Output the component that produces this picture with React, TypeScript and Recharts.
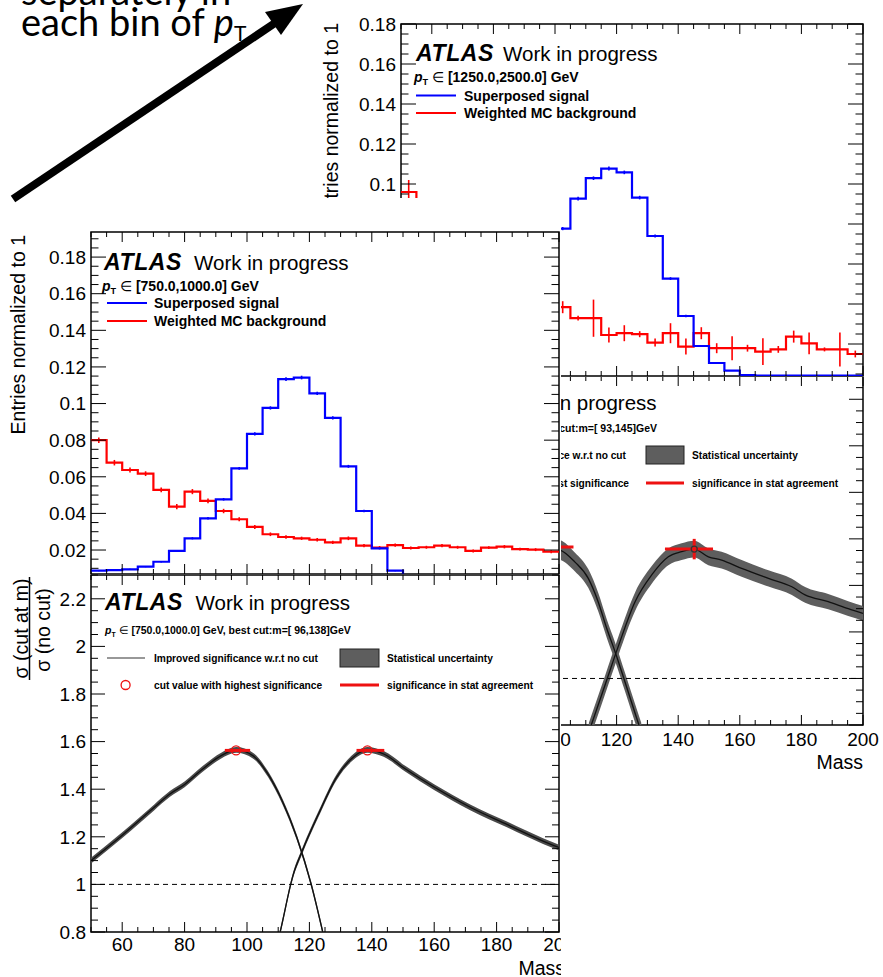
import React from "react";
import { ComposedChart, Line, Area, Scatter, XAxis, YAxis, ErrorBar, ReferenceLine, ReferenceArea } from "recharts";

const FONT = "'Liberation Sans', Arimo, Helvetica, Arial, sans-serif";

// 5 GeV mass bins (left edges)
const binEdges = [50, 55, 60, 65, 70, 75, 80, 85, 90, 95, 100, 105, 110, 115, 120, 125, 130, 135, 140, 145, 150, 155, 160, 165, 170, 175, 180, 185, 190, 195];

// pT in [750, 1000] GeV
const sigLowPt = [0.0087, 0.009, 0.0094, 0.0109, 0.0136, 0.0195, 0.0264, 0.0373, 0.0477, 0.0646, 0.0834, 0.0976, 0.1133, 0.1142, 0.1056, 0.0922, 0.0657, 0.0413, 0.0209, 0.0087, 0.004, 0.003, 0.002, 0.002, 0.001, 0.001, 0.001, 0.001, 0.001, 0.001];
const sigLowPtErr = [0.0003, 0.0003, 0.0003, 0.0003, 0.0004, 0.0005, 0.0006, 0.0007, 0.0007, 0.0008, 0.0009, 0.0009, 0.001, 0.001, 0.0009, 0.0009, 0.0008, 0.0007, 0.0005, 0.0003, 0.0002, 0.0002, 0.0002, 0.0002, 0.0002, 0.0002, 0.0002, 0.0002, 0.0002, 0.0002];
const bkgLowPt = [0.08, 0.0677, 0.0637, 0.0617, 0.0528, 0.0437, 0.0519, 0.0468, 0.0413, 0.0368, 0.0326, 0.0286, 0.0271, 0.0264, 0.0256, 0.0242, 0.0264, 0.0224, 0.0213, 0.0227, 0.0211, 0.0215, 0.0224, 0.0215, 0.0195, 0.0213, 0.0218, 0.0205, 0.0202, 0.0191];
const bkgLowPtErr = [0.0015, 0.0015, 0.0014, 0.0013, 0.0013, 0.0015, 0.0014, 0.0013, 0.0012, 0.0011, 0.0011, 0.001, 0.001, 0.0009, 0.0009, 0.0009, 0.001, 0.0009, 0.0009, 0.0009, 0.0008, 0.0008, 0.0009, 0.0008, 0.0008, 0.0008, 0.0009, 0.0008, 0.0008, 0.0008];

// pT in [1250, 2500] GeV
const sigHighPt = [0.003, 0.004, 0.005, 0.006, 0.008, 0.011, 0.016, 0.025, 0.038, 0.056, 0.0777, 0.0927, 0.1029, 0.1077, 0.1058, 0.0932, 0.074, 0.0527, 0.034, 0.019, 0.0105, 0.0067, 0.0045, 0.0042, 0.0042, 0.0042, 0.0042, 0.0042, 0.0042, 0.0042];
const sigHighPtErr = [0.0003, 0.0003, 0.0003, 0.0003, 0.0004, 0.0004, 0.0005, 0.0006, 0.0007, 0.0008, 0.0008, 0.0009, 0.0009, 0.001, 0.0009, 0.0009, 0.0008, 0.0007, 0.0006, 0.0005, 0.0003, 0.0002, 0.0002, 0.0002, 0.0002, 0.0002, 0.0002, 0.0002, 0.0002, 0.0002];
const bkgHighPt = [0.096, 0.07, 0.062, 0.058, 0.052, 0.05, 0.046, 0.044, 0.041, 0.039, 0.0384, 0.0329, 0.0329, 0.0245, 0.0254, 0.0249, 0.0207, 0.0254, 0.0187, 0.0254, 0.0179, 0.0179, 0.0179, 0.0162, 0.0173, 0.0237, 0.0203, 0.0173, 0.0173, 0.015];
const bkgHighPtErr = [0.006, 0.008, 0.005, 0.005, 0.005, 0.004, 0.004, 0.004, 0.004, 0.004, 0.003, 0.0012, 0.0093, 0.0037, 0.004, 0.0015, 0.002, 0.005, 0.004, 0.003, 0.0025, 0.006, 0.0017, 0.0067, 0.0017, 0.003, 0.0054, 0.001, 0.0085, 0.0017];

// significance improvement, pT in [750, 1000]: lower mass cut / upper mass cut
const impLowCutMassA = [50, 60.3, 70.2, 75.3, 80, 85.8, 91.6, 96.5, 102, 106.7, 111.3, 116, 120.6, 124.1, 126];
const impLowCutA = [1.1, 1.21, 1.323, 1.38, 1.42, 1.485, 1.54, 1.565, 1.54, 1.464, 1.35, 1.196, 0.999, 0.81, 0.7];
const impLowCutErrA = [0.012, 0.012, 0.012, 0.012, 0.012, 0.012, 0.012, 0.012, 0.012, 0.012, 0.012, 0.012, 0.012, 0.012, 0.012];
const impHighCutMassA = [109, 110.8, 114.8, 117.7, 122.9, 128.7, 133.4, 138.6, 143.8, 150.8, 160.1, 171.7, 183.3, 194.9, 200];
const impHighCutA = [0.71, 0.81, 1.04, 1.14, 1.295, 1.45, 1.527, 1.565, 1.548, 1.485, 1.408, 1.323, 1.252, 1.182, 1.155];
const impHighCutErrA = [0.012, 0.012, 0.012, 0.012, 0.012, 0.012, 0.012, 0.012, 0.012, 0.012, 0.012, 0.012, 0.012, 0.012, 0.012];
const bestCutMassA = [96.5, 138.6];
const bestCutA = [1.563, 1.563];
const bestCutLoA = [3.6, 3.5];
const bestCutHiA = [4.5, 5.4];
const bestCutYErrA = [0, 0];

// significance improvement, pT in [1250, 2500]
const impLowCutMassB = [50, 60, 70, 80, 86, 90, 93, 97, 101.6, 106.5, 110.8, 114, 116.8, 119.5, 122.7, 126.5, 128];
const impLowCutB = [1.08, 1.2, 1.33, 1.45, 1.52, 1.555, 1.565, 1.56, 1.552, 1.5, 1.43, 1.33, 1.215, 1.115, 0.986, 0.83, 0.77];
const impLowCutErrB = [0.04, 0.04, 0.04, 0.04, 0.04, 0.04, 0.04, 0.04, 0.042, 0.04, 0.04, 0.04, 0.04, 0.04, 0.04, 0.04, 0.04];
const impHighCutMassB = [111, 116.2, 120.6, 126, 131.4, 136.8, 141.1, 145.2, 149.8, 154.1, 160.6, 169.3, 176.9, 181.2, 188.7, 195.2, 200];
const impHighCutB = [0.77, 0.97, 1.14, 1.33, 1.445, 1.523, 1.545, 1.556, 1.523, 1.509, 1.473, 1.43, 1.394, 1.359, 1.33, 1.3, 1.28];
const impHighCutErrB = [0.04, 0.04, 0.04, 0.04, 0.038, 0.036, 0.036, 0.036, 0.036, 0.036, 0.036, 0.035, 0.035, 0.034, 0.033, 0.032, 0.032];
const bestCutMassB = [93, 145.2];
const bestCutB = [1.565, 1.556];
const bestCutLoB = [10, 9.5];
const bestCutHiB = [13, 6.1];
const bestCutYErrB = [0, 0.044];

const massMajorTicks = [60, 80, 100, 120, 140, 160, 180, 200];
const histMajorTicks = [0.02, 0.04, 0.06, 0.08, 0.1, 0.12, 0.14, 0.16, 0.18];
const ratioMajorTicks = [0.8, 1, 1.2, 1.4, 1.6, 1.8, 2, 2.2];

const steps = (a: number, b: number, s: number) => {
	const out: number[] = [];
	for (let v = a; v <= b + 1e-9; v += s) out.push(Math.round(v * 1000) / 1000);
	return out;
};
const massTicks = steps(50, 200, 5);

type Frame = { left: number; top: number; right: number; bottom: number };

const stepData = (vals: number[]) => {
	const pts = binEdges.map((m, i) => ({ m, v: vals[i] }));
	pts.push({ m: 200, v: vals[vals.length - 1] });
	return pts;
};
const errData = (vals: number[], errs: number[]) => binEdges.map((m, i) => ({ m: m + 2.5, v: vals[i], e: errs[i] }));
const curveData = (mass: number[], vals: number[], errs: number[]) =>
	mass.map((m, i) => ({ m, v: vals[i], band: [vals[i] - errs[i], vals[i] + errs[i]] }));
const peakData = (mass: number[], vals: number[], lo: number[], hi: number[], ey: number[]) =>
	mass.map((m, i) => ({ m, v: vals[i], ex: [lo[i], hi[i]], ey: ey[i] }));

// the axes are given 1px so they render; the frame itself is the plot area
const chartMargin = (w: number, h: number, f: Frame) => ({ top: f.top, left: f.left - 1, right: w - f.right, bottom: h - f.bottom - 1 });

const makeXTick = (f: Frame, major: number, minor: number, labelDy: number, labels: boolean) => (p: any) => {
	const x = p.x;
	const v = p.payload.value;
	const isMajor = massMajorTicks.includes(v);
	const len = isMajor ? major : minor;
	return (
		<g>
			<line x1={x} x2={x} y1={f.bottom} y2={f.bottom - len} stroke="#000" strokeWidth={1} />
			<line x1={x} x2={x} y1={f.top} y2={f.top + len} stroke="#000" strokeWidth={1} />
			{isMajor && labels ? (
				<text x={x} y={f.bottom + labelDy} textAnchor="middle" fontSize={19} fontFamily={FONT} fill="#000">
					{v}
				</text>
			) : null}
		</g>
	);
};

const makeYTick = (f: Frame, majors: number[], major: number, minor: number) => (p: any) => {
	const y = p.y;
	const v = p.payload.value;
	const isMajor = majors.some((m) => Math.abs(m - v) < 1e-6);
	const len = isMajor ? major : minor;
	return (
		<g>
			<line x1={f.left} x2={f.left + len} y1={y} y2={y} stroke="#000" strokeWidth={1} />
			<line x1={f.right} x2={f.right - len} y1={y} y2={y} stroke="#000" strokeWidth={1} />
			{isMajor ? (
				<text x={f.left - 5} y={y + 6.8} textAnchor="end" fontSize={19} fontFamily={FONT} fill="#000">
					{String(Number(v.toFixed(3)))}
				</text>
			) : null}
		</g>
	);
};

const noShape = () => <g />;

function HistChart(props: {
	w: number; h: number; frame: Frame; yDomain: [number, number];
	sig: number[]; sigErr: number[]; bkg: number[]; bkgErr: number[];
}) {
	const { w, h, frame, yDomain, sig, sigErr, bkg, bkgErr } = props;
	const yTicks = steps(0.005, 0.19, 0.005).filter((t) => t >= yDomain[0] && t <= yDomain[1]);
	return (
		<ComposedChart width={w} height={h} margin={chartMargin(w, h, frame)}>
			<XAxis type="number" dataKey="m" domain={[50, 200]} allowDataOverflow ticks={massTicks} interval={0}
				tick={makeXTick(frame, 10, 5, 20, false)} tickLine={false} axisLine={false} height={1} />
			<YAxis type="number" domain={yDomain} allowDataOverflow ticks={yTicks} interval={0}
				tick={makeYTick(frame, histMajorTicks, 15, 7.5)} tickLine={false} axisLine={false} width={1} />
			<ReferenceArea x1={50} x2={200} y1={yDomain[0]} y2={yDomain[1]} fill="none" stroke="#000" strokeWidth={1.5} ifOverflow="visible" />
			<Line data={stepData(bkg)} dataKey="v" type="stepAfter" stroke="#ff0000" strokeWidth={2.2} dot={false} isAnimationActive={false} />
			<Scatter data={errData(bkg, bkgErr)} dataKey="v" shape={noShape} isAnimationActive={false}>
				<ErrorBar dataKey="e" direction="y" width={0} stroke="#ff0000" strokeWidth={1.6} />
			</Scatter>
			<Line data={stepData(sig)} dataKey="v" type="stepAfter" stroke="#0000ff" strokeWidth={2.2} dot={false} isAnimationActive={false} />
			<Scatter data={errData(sig, sigErr)} dataKey="v" shape={noShape} isAnimationActive={false}>
				<ErrorBar dataKey="e" direction="y" width={0} stroke="#0000ff" strokeWidth={1.6} />
			</Scatter>
		</ComposedChart>
	);
}

function RatioChart(props: {
	w: number; h: number; frame: Frame; labelDy: number; bandFill: string;
	low: { m: number; v: number; band: number[] }[];
	high: { m: number; v: number; band: number[] }[];
	peaks: { m: number; v: number; ex: number[]; ey: number }[];
	peakShape: (p: any) => React.ReactElement;
}) {
	const { w, h, frame, labelDy, bandFill, low, high, peaks, peakShape } = props;
	const yTicks = steps(0.8, 2.3, 0.05);
	return (
		<ComposedChart width={w} height={h} margin={chartMargin(w, h, frame)}>
			<XAxis type="number" dataKey="m" domain={[50, 200]} allowDataOverflow ticks={massTicks} interval={0}
				tick={makeXTick(frame, 10, 5, labelDy, true)} tickLine={false} axisLine={false} height={1} />
			<YAxis type="number" domain={[0.8, 2.3]} allowDataOverflow ticks={yTicks} interval={0}
				tick={makeYTick(frame, ratioMajorTicks, 14, 7)} tickLine={false} axisLine={false} width={1} />
			<ReferenceArea x1={50} x2={200} y1={0.8} y2={2.3} fill="none" stroke="#000" strokeWidth={1.5} ifOverflow="visible" />
			<Area data={low} dataKey="band" type="monotone" fill={bandFill} fillOpacity={1} stroke="none" isAnimationActive={false} />
			<Area data={high} dataKey="band" type="monotone" fill={bandFill} fillOpacity={1} stroke="none" isAnimationActive={false} />
			<ReferenceLine y={1} stroke="#000" strokeWidth={1} strokeDasharray="5 4" />
			<Line data={low} dataKey="v" type="monotone" stroke="#111" strokeWidth={1.3} dot={false} isAnimationActive={false} />
			<Line data={high} dataKey="v" type="monotone" stroke="#111" strokeWidth={1.3} dot={false} isAnimationActive={false} />
			<Scatter data={peaks} dataKey="v" shape={peakShape} isAnimationActive={false}>
				<ErrorBar dataKey="ex" direction="x" width={0} stroke="#ee1111" strokeWidth={3} />
				<ErrorBar dataKey="ey" direction="y" width={0} stroke="#ee1111" strokeWidth={3} />
			</Scatter>
		</ComposedChart>
	);
}

const openCircle = (p: any) => <circle cx={p.cx} cy={p.cy} r={4.5} fill="none" stroke="#ee1111" strokeWidth={1.3} />;
const darkCircle = (p: any) => <circle cx={p.cx} cy={p.cy} r={3} fill="none" stroke="#333" strokeWidth={1.3} />;

const T = { fontFamily: FONT, fill: "#000" } as const;

function AtlasLabel({ x, y, gap }: { x: number; y: number; gap: number }) {
	return (
		<g>
			<text x={x} y={y} dominantBaseline="central" fontSize={23} fontWeight="bold" fontStyle="italic" letterSpacing={0.6} {...T}>ATLAS</text>
			<text x={x + gap} y={y} dominantBaseline="central" fontSize={20.5} {...T}>Work in progress</text>
		</g>
	);
}

function PtLabel({ x, y, size, rest, anchor }: { x: number; y: number; size: number; rest: string; anchor?: "start" | "end" }) {
	return (
		<text x={x} y={y} dominantBaseline="central" fontSize={size} fontWeight="bold" textAnchor={anchor || "start"} {...T}>
			<tspan fontStyle="italic">p</tspan>
			<tspan fontSize={size * 0.65} dy={size * 0.35}>T</tspan>
			<tspan dy={-size * 0.35} fontWeight="normal">{"  \u2208 "}</tspan>
			<tspan>{rest}</tspan>
		</text>
	);
}

export default function App() {
	const trFrame: Frame = { left: 81, top: 24, right: 543, bottom: 376 };
	const mrFrame: Frame = { left: 81, top: 10, right: 543, bottom: 359 };
	const mlFrame: Frame = { left: 91, top: 34, right: 559, bottom: 376 };
	const bFrame: Frame = { left: 91, top: 1, right: 559, bottom: 358 };

	const abs = (left: number, top: number, w: number, h: number): React.CSSProperties => ({
		position: "absolute", left, top, width: w, height: h, background: "#fff", overflow: "hidden",
	});
	const overlay: React.CSSProperties = { position: "absolute", left: 0, top: 0 };

	return (
		<div style={{ position: "absolute", left: 0, top: 0, width: 883, height: 977, background: "#fff", overflow: "hidden" }}>
			{/* significance, pT 1250-2500 */}
			<div style={abs(320, 366, 563, 611)}>
				<RatioChart w={563} h={611} frame={mrFrame} labelDy={21} bandFill="#5e5e5e"
					low={curveData(impLowCutMassB, impLowCutB, impLowCutErrB)}
					high={curveData(impHighCutMassB, impHighCutB, impHighCutErrB)}
					peaks={peakData(bestCutMassB, bestCutB, bestCutLoB, bestCutHiB, bestCutYErrB)}
					peakShape={darkCircle} />
				<svg width={563} height={611} style={overlay}>
					<AtlasLabel x={94} y={36} gap={88} />
					<PtLabel x={337} y={62} size={10.5} anchor="end" rest="[1250.0,2500.0] GeV, best cut:m=[ 93,145]GeV" />
					<text x={306} y={89} dominantBaseline="central" textAnchor="end" fontSize={10.2} fontWeight="bold" {...T}>Improved significance w.r.t no cut</text>
					<rect x={326} y={80} width={38} height={18} fill="#5e5e5e" stroke="#222" strokeWidth={1} />
					<text x={372} y={89} dominantBaseline="central" fontSize={10.2} fontWeight="bold" {...T}>Statistical uncertainty</text>
					<text x={309} y={117} dominantBaseline="central" textAnchor="end" fontSize={10.2} fontWeight="bold" {...T}>cut value with highest significance</text>
					<line x1={326} x2={364} y1={117} y2={117} stroke="#ee1111" strokeWidth={3} />
					<text x={372} y={117} dominantBaseline="central" fontSize={10.2} fontWeight="bold" {...T}>significance in stat agreement</text>
					<text x={543} y={403} textAnchor="end" fontSize={19.5} {...T}>Mass</text>
				</svg>
			</div>

			{/* histogram, pT 1250-2500 */}
			<div style={abs(320, 0, 563, 377)}>
				<HistChart w={563} h={377} frame={trFrame} yDomain={[0.004, 0.18]}
					sig={sigHighPt} sigErr={sigHighPtErr} bkg={bkgHighPt} bkgErr={bkgHighPtErr} />
				<svg width={563} height={377} style={overlay}>
					<text transform="translate(11,23) rotate(-90)" textAnchor="end" dominantBaseline="central" fontSize={19.5} {...T}>Entries normalized to 1</text>
					<AtlasLabel x={96} y={53} gap={87} />
					<PtLabel x={94} y={77} size={14} rest="[1250.0,2500.0] GeV" />
					<line x1={96} x2={136} y1={95.5} y2={95.5} stroke="#0000ff" strokeWidth={2.2} />
					<text x={144} y={95.5} dominantBaseline="central" fontSize={14} fontWeight="bold" {...T}>Superposed signal</text>
					<line x1={96} x2={136} y1={113} y2={113} stroke="#ff0000" strokeWidth={2.2} />
					<text x={144} y={113} dominantBaseline="central" fontSize={14} fontWeight="bold" {...T}>Weighted MC background</text>
				</svg>
			</div>

			{/* histogram, pT 750-1000 */}
			<div style={abs(0, 198, 561, 377)}>
				<HistChart w={561} h={377} frame={mlFrame} yDomain={[0.0069, 0.1937]}
					sig={sigLowPt} sigErr={sigLowPtErr} bkg={bkgLowPt} bkgErr={bkgLowPtErr} />
				<svg width={561} height={377} style={overlay}>
					<text transform="translate(18,37) rotate(-90)" textAnchor="end" dominantBaseline="central" fontSize={19.5} {...T}>Entries normalized to 1</text>
					<AtlasLabel x={104} y={64} gap={90} />
					<PtLabel x={102} y={88} size={14} rest="[750.0,1000.0] GeV" />
					<line x1={107} x2={147} y1={105} y2={105} stroke="#0000ff" strokeWidth={2.2} />
					<text x={154} y={105} dominantBaseline="central" fontSize={14} fontWeight="bold" {...T}>Superposed signal</text>
					<line x1={107} x2={147} y1={123} y2={123} stroke="#ff0000" strokeWidth={2.2} />
					<text x={154} y={123} dominantBaseline="central" fontSize={14} fontWeight="bold" {...T}>Weighted MC background</text>
				</svg>
			</div>

			{/* significance, pT 750-1000 */}
			<div style={abs(0, 574, 561, 403)}>
				<RatioChart w={561} h={403} frame={bFrame} labelDy={19} bandFill="#4a4a4a"
					low={curveData(impLowCutMassA, impLowCutA, impLowCutErrA)}
					high={curveData(impHighCutMassA, impHighCutA, impHighCutErrA)}
					peaks={peakData(bestCutMassA, bestCutA, bestCutLoA, bestCutHiA, bestCutYErrA)}
					peakShape={openCircle} />
				<svg width={561} height={403} style={overlay}>
					<text transform="translate(21,54.5) rotate(-90)" textAnchor="middle" dominantBaseline="central" fontSize={19.5} {...T}>σ (cut at m)</text>
					<line x1={29.5} x2={29.5} y1={3} y2={106} stroke="#000" strokeWidth={1.5} />
					<text transform="translate(43,56) rotate(-90)" textAnchor="middle" dominantBaseline="central" fontSize={19.5} {...T}>σ (no cut)</text>
					<AtlasLabel x={105} y={28} gap={90.5} />
					<PtLabel x={105} y={56} size={10.5} rest="[750.0,1000.0] GeV, best cut:m=[ 96,138]GeV" />
					<line x1={107} x2={145} y1={84} y2={84} stroke="#333" strokeWidth={1.2} />
					<text x={154} y={84} dominantBaseline="central" fontSize={10.2} fontWeight="bold" {...T}>Improved significance w.r.t no cut</text>
					<rect x={340} y={75} width={39} height={18} fill="#5e5e5e" stroke="#222" strokeWidth={1} />
					<text x={387} y={84} dominantBaseline="central" fontSize={10.2} fontWeight="bold" {...T}>Statistical uncertainty</text>
					<circle cx={125.6} cy={111} r={4.5} fill="none" stroke="#ee1111" strokeWidth={1.3} />
					<text x={154} y={111} dominantBaseline="central" fontSize={10.2} fontWeight="bold" {...T}>cut value with highest significance</text>
					<line x1={340} x2={379} y1={111} y2={111} stroke="#ee1111" strokeWidth={3} />
					<text x={387} y={111} dominantBaseline="central" fontSize={10.2} fontWeight="bold" {...T}>significance in stat agreement</text>
					<text x={565} y={401} textAnchor="end" fontSize={19.5} {...T}>Mass</text>
				</svg>
			</div>

			{/* slide caption and arrow */}
			<svg width={320} height={210} style={overlay}>
				<text x={21} y={5} fontFamily="Lato, 'Noto Sans', sans-serif" fontSize={38} fill="#000">separately in</text>
				<text x={21} y={36} fontFamily="Lato, 'Noto Sans', sans-serif" fontSize={38} fill="#000">
					each bin of <tspan fontStyle="italic">p</tspan>
					<tspan fontSize={21} dy={5}>T</tspan>
				</text>
				<line x1={13} y1={199} x2={275} y2={23} stroke="#000" strokeWidth={8} />
				<polygon points="303,4 281,35 265,12" fill="#000" />
			</svg>
		</div>
	);
}
